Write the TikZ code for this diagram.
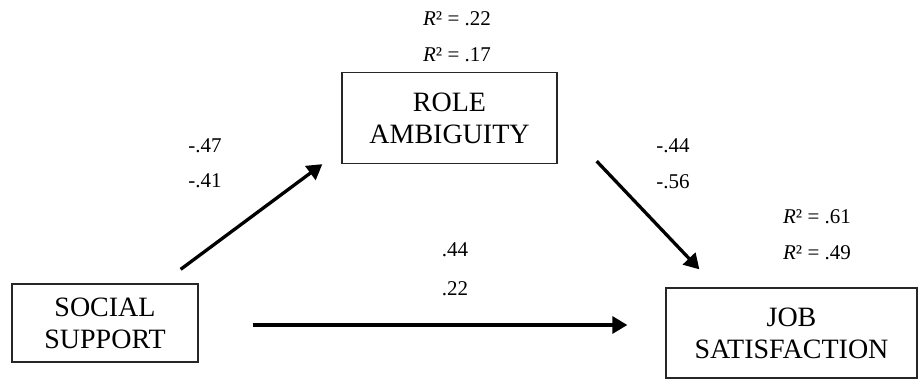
\documentclass[tikz,border=0pt]{standalone}
\usepackage{fontspec}
\setmainfont{Liberation Serif}
\usetikzlibrary{arrows.meta,positioning}
\tikzset{
  varbox/.style={draw=black!85, line width=1.3pt, align=center, inner sep=0pt, font=\fontsize{28}{32}\selectfont},
  coef/.style={anchor=base, inner sep=0pt, font=\fontsize{21}{21}\selectfont},
  patharrow/.style={-{Triangle[length=15pt,width=17pt]}, line width=3.3pt}
}
\newcommand{\rsq}[1]{\textit{R}{\upshape ²} = #1}

\begin{document}
\begin{tikzpicture}[x=1pt,y=-1pt]
  \useasboundingbox (0,0) rectangle (918,380);
  % variables
  \node[varbox, minimum width=186pt, minimum height=78pt] (social) at (105,323) {SOCIAL\\SUPPORT};
  \node[varbox, minimum width=215pt, minimum height=91pt] (role) at (449.5,118) {ROLE\\AMBIGUITY};
  \node[varbox, minimum width=251pt, minimum height=90pt] (job) at (791.5,333) {JOB\\SATISFACTION};
  % path coefficients
  \node[coef] (a1) at (205,152) {-.47};
  \node[coef] (a2) at (205,187) {-.41};
  \node[coef] (b1) at (673,152) {-.44};
  \node[coef] (b2) at (673,188) {-.56};
  \node[coef] (c1) at (455,256) {.44};
  \node[coef] (c2) at (455,295) {.22};
  % explained variance
  \node[coef] (r1) at (457,25) {\rsq{.22}};
  \node[coef] (r2) at (457,61) {\rsq{.17}};
  \node[coef] (r3) at (817,223) {\rsq{.61}};
  \node[coef] (r4) at (817,259) {\rsq{.49}};
  % arrow ends
  \coordinate (as) at ([shift={(-18,-14)}]social.north east);
  \coordinate (ae) at ([shift={(-19,0)}]role.south west);
  \coordinate (bs) at ([shift={(39,-3)}]role.south east);
  \coordinate (be) at ([shift={(34,-18)}]job.north west);
  \coordinate (cs) at ([shift={(54,2)}]social.east);
  \coordinate (ce) at ([shift={(-38,-8)}]job.west);
  \foreach \a/\b in {as/ae,bs/be,cs/ce}{\draw[patharrow] (\a) -- (\b);}
\end{tikzpicture}
\end{document}
